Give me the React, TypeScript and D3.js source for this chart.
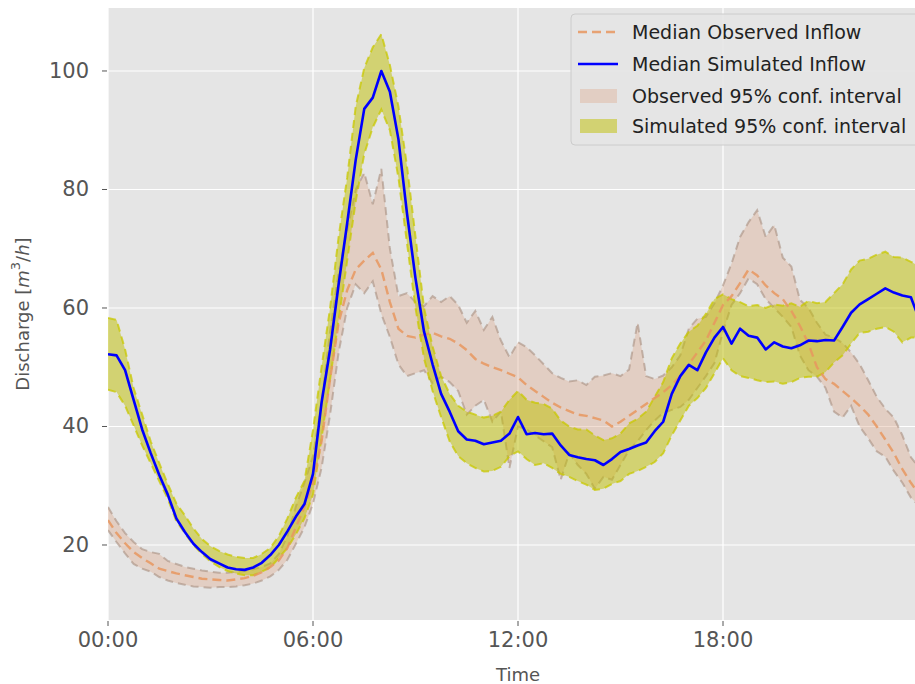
import React from "react";
import * as d3 from "d3";

// Time of day in hours, sampled every 15 minutes
const HOURS: number[] = d3.range(0, 24, 0.25);

const SIM_MED = [
  52.2, 52.0, 49.5, 44.5, 39.5, 35.5, 31.8, 28.5, 24.5, 22.2, 20.2, 18.8,
  17.6, 16.9, 16.2, 15.9, 15.8, 16.2, 17.0, 18.3, 20.0, 22.3, 24.8, 26.9,
  32.0, 44.0, 53.0, 64.0, 74.3, 85.0, 93.6, 95.5, 100.0, 96.5, 88.5, 76.0,
  65.0, 56.0, 50.5, 45.5, 42.5, 39.2, 37.8, 37.6, 37.0, 37.3, 37.6, 38.8,
  41.6, 38.7, 38.9, 38.7, 38.8, 36.8, 35.2, 34.8, 34.5, 34.3, 33.5, 34.5,
  35.7, 36.2, 36.8, 37.3, 39.2, 40.8, 45.5, 48.5, 50.4, 49.5, 52.5, 55.0,
  56.8, 54.0, 56.5, 55.3, 55.0, 53.0, 54.2, 53.5, 53.2, 53.7, 54.5, 54.4,
  54.6, 54.5, 56.8, 59.2, 60.6, 61.5, 62.4, 63.3, 62.6, 62.1, 61.8, 58.0,
];

const SIM_HI = [
  58.3, 58.0, 53.0, 46.5, 42.0, 37.5, 33.8, 30.3, 27.0, 25.0, 22.8, 21.0,
  19.8, 19.0, 18.4, 18.0, 17.8, 17.8, 18.5, 19.5, 21.5, 24.5, 28.0, 30.8,
  39.4, 50.0, 60.0, 72.0, 82.0, 94.0, 100.5, 104.0, 106.2, 101.0, 94.0, 84.0,
  72.0, 60.0, 53.5, 48.5, 45.5, 43.5, 42.5, 42.0, 41.5, 41.8, 42.5, 44.5,
  46.0, 44.5, 44.0, 43.8, 43.0, 41.0, 40.0, 39.5, 39.5, 38.5, 37.7, 38.0,
  38.8, 40.5, 41.3, 42.5, 45.0, 47.5, 51.5, 54.0, 56.0, 57.0, 59.0, 61.5,
  62.3, 61.5, 61.0, 60.3, 60.5, 60.0, 60.6, 60.4, 60.8, 60.2, 61.2, 60.8,
  61.0, 62.5, 64.0, 66.5, 68.0, 68.3, 69.0, 69.5, 68.6, 68.5, 67.8, 67.0,
];

const SIM_LO = [
  46.2, 45.8, 43.5, 40.2, 36.8, 33.8, 30.8, 27.8, 24.0, 22.0, 20.0, 18.5,
  17.2, 16.3, 15.6, 15.2, 14.9, 14.9, 15.5, 16.2, 17.8, 19.5, 21.8, 24.5,
  28.5, 38.0, 48.0, 58.0, 68.0, 78.0, 86.0, 90.5, 93.5, 90.0, 82.0, 71.0,
  60.0, 51.5, 46.0, 41.6, 37.5, 35.0, 33.8, 33.0, 32.4, 32.5, 33.2, 35.0,
  35.8, 34.5, 33.5, 33.8, 33.0, 32.0, 31.5, 30.8, 30.2, 29.3, 29.5, 30.3,
  30.8, 32.0, 32.5, 33.2, 34.0, 35.5, 38.5, 41.0, 43.5, 44.8, 46.5, 49.0,
  51.5, 49.5, 48.5, 48.2, 47.8, 47.5, 47.6, 47.2, 47.5, 48.2, 48.4, 48.4,
  49.2, 50.8, 52.0, 54.0, 55.8, 56.0, 56.5, 56.8, 56.0, 54.2, 55.0, 55.0,
];

const OBS_MED = [
  24.2, 22.0, 20.3, 18.8, 17.8, 16.9, 16.0, 15.6, 15.2, 14.9, 14.6, 14.3,
  14.2, 14.1, 14.0, 14.2, 14.4, 14.8, 15.4, 16.3, 17.4, 19.5, 23.0, 26.5,
  30.5, 37.5, 48.0, 57.5, 63.0, 66.5, 68.0, 69.3, 66.5, 61.0, 56.5, 55.3,
  55.0, 55.5, 55.8, 55.2, 54.8, 54.0, 52.9, 51.4, 50.6, 50.0, 49.5, 48.9,
  48.3, 47.0, 46.0, 45.0, 44.0, 43.2, 42.6, 42.0, 41.8, 41.4, 41.0, 40.0,
  40.8, 41.8, 42.8, 43.8, 44.8, 45.8, 47.0, 48.5, 50.5, 52.5, 54.5, 57.5,
  60.5, 62.0, 64.2, 66.5, 65.5, 63.8, 62.5, 61.5, 59.5, 57.0, 54.0, 50.0,
  48.0, 47.2, 46.0, 44.8, 43.5, 42.0, 40.0, 37.8, 35.5, 32.8, 30.5, 28.5,
];

const OBS_HI = [
  26.4, 24.0, 22.0, 20.5, 19.3, 18.8, 18.5, 17.3, 16.8, 16.3, 16.0, 15.7,
  15.5, 15.3, 15.3, 15.5, 15.6, 15.9, 16.3, 16.9, 18.5, 21.5, 26.5, 30.5,
  35.0, 44.0, 56.0, 66.0, 73.0, 80.0, 82.8, 77.5, 83.5, 70.0, 62.0, 62.5,
  61.0, 60.3, 62.0, 61.0, 62.0, 60.5, 57.5, 59.5, 56.3, 58.5, 54.5, 51.7,
  54.2, 53.4, 52.0, 50.5, 49.0, 48.2, 47.6, 47.8, 47.0, 48.4, 48.6, 49.0,
  48.5, 49.6, 57.5, 48.5, 48.0, 48.6, 50.0, 52.0, 56.5, 58.2, 58.5, 60.8,
  63.8, 67.5, 72.0, 74.5, 76.5, 72.0, 74.0, 68.5, 67.0, 61.4, 60.0, 57.5,
  55.5, 55.0, 54.1, 52.5, 50.5, 47.8, 45.0, 43.0, 41.5, 38.5, 34.8, 33.0,
];

const OBS_LO = [
  22.5, 20.5, 18.6, 16.8, 16.0, 15.5, 14.6, 14.0, 13.6, 13.3, 13.0, 12.9,
  12.8, 12.9, 12.9, 13.0, 13.2, 13.5, 14.0, 14.7, 15.8, 17.5, 20.2, 23.0,
  27.0, 33.0, 42.0, 52.5, 60.0, 64.0, 62.5, 64.5, 59.0, 55.1, 50.5, 48.5,
  49.0, 49.5, 47.3, 48.4, 47.5, 46.0, 42.0, 43.5, 44.5, 40.8, 42.5, 33.0,
  40.0, 39.5, 38.5, 37.5, 36.5, 31.0, 35.5, 33.5, 32.0, 29.5, 31.5, 31.0,
  33.5, 36.0, 37.5, 39.4, 41.0, 42.3, 42.8, 43.3, 44.5, 46.5, 48.5, 50.7,
  56.0, 60.5, 62.5, 65.0, 64.0, 61.5, 60.0, 58.5, 56.8, 52.0, 49.5, 48.4,
  46.5, 42.5, 41.5, 43.5, 40.0, 38.0, 35.8, 34.9, 32.5, 30.5, 28.0, 26.5,
];

const X_TICKS = [0, 6, 12, 18];
const X_TICK_LABELS = ["00:00", "06:00", "12:00", "18:00"];
const Y_TICKS = [20, 40, 60, 80, 100];

const LEGEND_LABELS = [
  "Median Observed Inflow",
  "Median Simulated Inflow",
  "Observed 95% conf. interval",
  "Simulated 95% conf. interval",
];

const W = 915;
const H = 684;
const PLOT = { left: 108, right: 928, top: 8, bottom: 620 };
const FONT = "DejaVu Sans, sans-serif";

export default function App() {
  const x = d3.scaleLinear().domain([0, 24]).range([PLOT.left, PLOT.right]);
  const y = d3.scaleLinear().domain([7.34, 110.63]).range([PLOT.bottom, PLOT.top]);

  const idx = HOURS.map((_, i) => i);
  const area = (lo: number[], hi: number[]) =>
    d3
      .area<number>()
      .x((i) => x(HOURS[i]))
      .y0((i) => y(lo[i]))
      .y1((i) => y(hi[i]))(idx) as string;
  const line = (vals: number[]) =>
    d3
      .line<number>()
      .x((i) => x(HOURS[i]))
      .y((i) => y(vals[i]))(idx) as string;

  const legendX = 578;
  const legendRows = [32, 64, 96, 126];

  return (
    <svg
      width={W}
      height={H}
      style={{ position: "absolute", left: 0, top: 0, background: "#fff" }}
    >
      <defs>
        <clipPath id="plot-clip">
          <rect
            x={PLOT.left}
            y={PLOT.top}
            width={PLOT.right - PLOT.left}
            height={PLOT.bottom - PLOT.top}
          />
        </clipPath>
      </defs>

      {/* axes background and grid */}
      <rect
        x={PLOT.left}
        y={PLOT.top}
        width={PLOT.right - PLOT.left}
        height={PLOT.bottom - PLOT.top}
        fill="#E5E5E5"
      />
      {Y_TICKS.map((t) => (
        <line
          key={`gy${t}`}
          x1={PLOT.left}
          x2={PLOT.right}
          y1={y(t)}
          y2={y(t)}
          stroke="#fff"
          strokeWidth={1.2}
        />
      ))}
      {X_TICKS.map((t) => (
        <line
          key={`gx${t}`}
          x1={x(t)}
          x2={x(t)}
          y1={PLOT.top}
          y2={PLOT.bottom}
          stroke="#fff"
          strokeWidth={1.2}
        />
      ))}

      <g clipPath="url(#plot-clip)">
        {/* observed confidence band */}
        <path d={area(OBS_LO, OBS_HI)} fill="#DCA78C" fillOpacity={0.38} />
        <path
          d={line(OBS_HI)}
          fill="none"
          stroke="#A89080"
          strokeOpacity={0.6}
          strokeWidth={2}
          strokeDasharray="8,5"
        />
        <path
          d={line(OBS_LO)}
          fill="none"
          stroke="#A89080"
          strokeOpacity={0.6}
          strokeWidth={2}
          strokeDasharray="8,5"
        />

        {/* simulated confidence band */}
        <path d={area(SIM_LO, SIM_HI)} fill="#BFBF00" fillOpacity={0.5} />
        <path
          d={line(SIM_HI)}
          fill="none"
          stroke="#C8C800"
          strokeOpacity={0.75}
          strokeWidth={2}
          strokeDasharray="8,5"
        />
        <path
          d={line(SIM_LO)}
          fill="none"
          stroke="#C8C800"
          strokeOpacity={0.75}
          strokeWidth={2}
          strokeDasharray="8,5"
        />

        {/* medians */}
        <path
          d={line(OBS_MED)}
          fill="none"
          stroke="#E8965F"
          strokeOpacity={0.85}
          strokeWidth={2.4}
          strokeDasharray="9,5"
        />
        <path
          d={line(SIM_MED)}
          fill="none"
          stroke="#0000FF"
          strokeWidth={2.6}
          strokeLinejoin="round"
        />
      </g>

      {/* y axis */}
      {Y_TICKS.map((t) => (
        <g key={`yt${t}`}>
          <line x1={PLOT.left - 6} x2={PLOT.left - 1} y1={y(t)} y2={y(t)} stroke="#555" strokeWidth={1} />
          <text
            x={PLOT.left - 19}
            y={y(t)}
            textAnchor="end"
            dominantBaseline="central"
            fontFamily={FONT}
            fontSize={21}
            fill="#555"
          >
            {t}
          </text>
        </g>
      ))}
      {/* x axis */}
      {X_TICKS.map((t, i) => (
        <g key={`xt${t}`}>
          <line x1={x(t)} x2={x(t)} y1={PLOT.bottom + 1} y2={PLOT.bottom + 6} stroke="#555" strokeWidth={1} />
          <text
            x={x(t)}
            y={PLOT.bottom + 20}
            textAnchor="middle"
            dominantBaseline="central"
            fontFamily={FONT}
            fontSize={21}
            fill="#555"
          >
            {X_TICK_LABELS[i]}
          </text>
        </g>
      ))}
      <text
        x={(PLOT.left + PLOT.right) / 2}
        y={674}
        textAnchor="middle"
        dominantBaseline="central"
        fontFamily={FONT}
        fontSize={18}
        fill="#555"
      >
        Time
      </text>
      <text
        transform={`translate(22,${(PLOT.top + PLOT.bottom) / 2}) rotate(-90)`}
        textAnchor="middle"
        dominantBaseline="central"
        fontFamily={FONT}
        fontSize={18}
        fill="#555"
      >
        Discharge [<tspan fontStyle="italic">m</tspan>
        <tspan fontSize={13} dy={-7}>3</tspan>
        <tspan dy={7}>/</tspan>
        <tspan fontStyle="italic">h</tspan>]
      </text>

      {/* legend */}
      <rect
        x={571}
        y={14}
        width={360}
        height={131}
        rx={4}
        fill="#E5E5E5"
        fillOpacity={0.92}
        stroke="#CCCCCC"
        strokeWidth={1}
      />
      <line
        x1={legendX}
        x2={legendX + 40}
        y1={legendRows[0]}
        y2={legendRows[0]}
        stroke="#E8965F"
        strokeOpacity={0.85}
        strokeWidth={2.4}
        strokeDasharray="9,5"
      />
      <line
        x1={legendX}
        x2={legendX + 40}
        y1={legendRows[1]}
        y2={legendRows[1]}
        stroke="#0000FF"
        strokeWidth={2.6}
      />
      <rect
        x={legendX + 2}
        y={legendRows[2] - 7}
        width={37}
        height={14}
        fill="#DCA78C"
        fillOpacity={0.38}
      />
      <rect
        x={legendX + 2}
        y={legendRows[3] - 7}
        width={37}
        height={14}
        fill="#BFBF00"
        fillOpacity={0.5}
      />
      {LEGEND_LABELS.map((lab, i) => (
        <text
          key={lab}
          x={632}
          y={legendRows[i]}
          dominantBaseline="central"
          fontFamily={FONT}
          fontSize={19}
          fill="#222"
        >
          {lab}
        </text>
      ))}
    </svg>
  );
}
